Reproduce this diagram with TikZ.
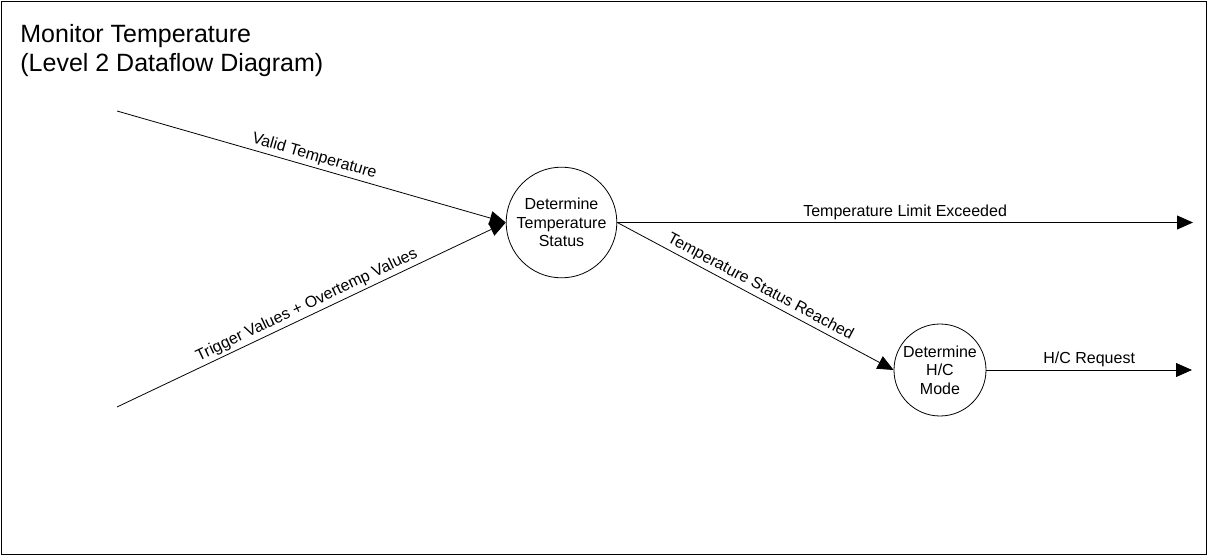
\documentclass[tikz,border=0pt]{standalone}
\usepackage{fontspec}
\setmainfont{Liberation Sans}
\usetikzlibrary{arrows.meta,positioning}

\begin{document}
\begin{tikzpicture}[x=0.75pt, y=-0.75pt, font=\fontsize{12}{14}\selectfont, line width=0.6pt,
    proc/.style={draw, circle, inner sep=0pt, align=center},
    flow/.style={-{Triangle[length=12pt,width=10.5pt]}},
    flowlabel/.style={midway, above, sloped, inner sep=2pt}]
  \useasboundingbox (0,0) rectangle (1208,556);
  \draw (1,1) rectangle (1206.5,554);
  \node[anchor=north west, inner sep=0pt, align=left,
    font=\fontsize{18.75}{21.6}\selectfont] (title) at (20,24)
    {Monitor Temperature\\(Level 2 Dataflow Diagram)};
  % processes
  \node[proc, minimum size=83pt] (status) at (561.5,222.5) {Determine\\Temperature\\Status};
  \node[proc, minimum size=69pt] (mode) at (940,370) {Determine\\H/C\\Mode};
  % free ends of the flows
  \coordinate (validin) at (117,111);
  \coordinate (triggerin) at (117,407);
  \coordinate (limitout) at (1193,222.5);
  \coordinate (requestout) at (1192,370);
  \draw[flow] (validin) -- (status.west) node[flowlabel] {Valid Temperature};
  \draw[flow] (triggerin) -- (status.west) node[flowlabel] {Trigger Values + Overtemp Values};
  \draw[flow] (status.east) -- (limitout) node[flowlabel] {Temperature Limit Exceeded};
  \draw[flow] (status.east) -- (mode.west) node[flowlabel] {Temperature Status Reached};
  \draw[flow] (mode.east) -- (requestout) node[flowlabel] {H/C Request};
\end{tikzpicture}
\end{document}
